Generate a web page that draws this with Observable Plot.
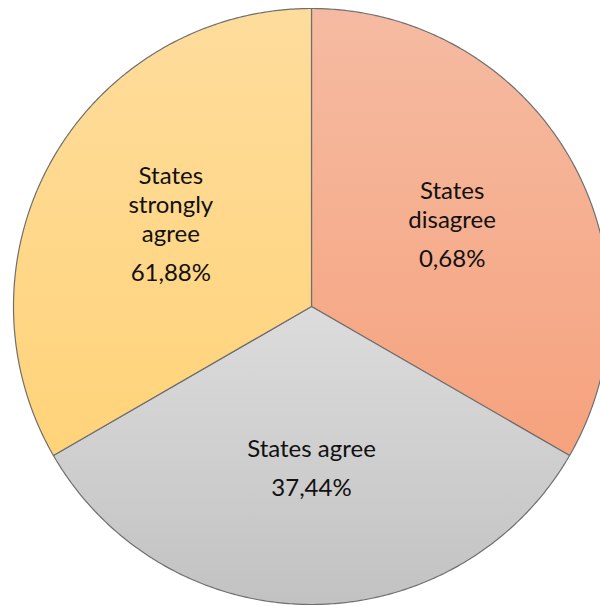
<!DOCTYPE html>
<html>
<head>
<meta charset="utf-8">
<script src="https://cdn.jsdelivr.net/npm/d3@7"></script>
<script src="https://cdn.jsdelivr.net/npm/@observablehq/plot@0.6"></script>
<style>
  html, body { margin: 0; padding: 0; background: #fff; }
  #chart { width: 600px; height: 606px; overflow: hidden; }
</style>
</head>
<body>
<div id="chart"></div>
<script>
// Data
const categories = ["States disagree", "States agree", "States strongly agree"];
const nameLines = [["States", "disagree"], ["States agree"], ["States", "strongly", "agree"]];
const percentLabels = ["0,68%", "37,44%", "61,88%"];
// Slice sizes as drawn in the picture (each slice spans one third of the circle)
const sliceShares = [1, 1, 1];
const gradTop = ["#F5BBA2", "#DCDCDC", "#FEDC9C"];
const gradBottom = ["#F6A27D", "#C2C2C2", "#FFD379"];

const pie = d3.pie().sort(null).value(d => d.share);
const rows = categories.map((c, i) => ({
  category: c, share: sliceShares[i], pct: percentLabels[i], lines: nameLines[i], i
}));
const arcs = pie(rows);

// polygon vertices of each sector in unit coordinates (y down)
const poly = [];
arcs.forEach(a => {
  const id = a.data.i;
  poly.push({x: 0, y: 0, id});
  const n = Math.max(2, Math.ceil((a.endAngle - a.startAngle) / (Math.PI / 360)));
  for (let k = 0; k <= n; k++) {
    const t = a.startAngle + (a.endAngle - a.startAngle) * k / n;
    poly.push({x: Math.sin(t), y: -Math.cos(t), id});
  }
});

const R = 298, cx = 311, cy = 306;
const lineH = 29;   // px between name lines
const gap = 39;     // px between last name line and percent
const labelR = 0.545;
const names = [], pcts = [];
arcs.forEach(a => {
  const mid = (a.startAngle + a.endAngle) / 2;
  const lx = labelR * Math.sin(mid), ly = -labelR * Math.cos(mid);
  const n = a.data.lines.length;
  const blockSpan = (n - 1) * lineH + gap; // from first line center to percent center
  const top = ly - (blockSpan / 2) / R;
  a.data.lines.forEach((t, k) => names.push({x: lx, y: top + (k * lineH) / R, text: t}));
  pcts.push({x: lx, y: top + ((n - 1) * lineH + gap) / R, text: a.data.pct});
});

const defs = () => {
  const d = d3.create("svg:defs");
  categories.forEach((c, i) => {
    const g = d.append("linearGradient").attr("id", "grad" + i)
      .attr("x1", 0).attr("y1", 0).attr("x2", 0).attr("y2", 1);
    g.append("stop").attr("offset", "0%").attr("stop-color", gradTop[i]);
    g.append("stop").attr("offset", "100%").attr("stop-color", gradBottom[i]);
  });
  return d.node();
};

const chart = Plot.plot({
  width: 600,
  height: 606,
  margin: 0,
  x: {domain: [-1, 1], range: [cx - R, cx + R], axis: null},
  y: {domain: [-1, 1], range: [cy - R, cy + R], axis: null},
  style: {fontFamily: "Lato, 'Open Sans', sans-serif", background: "white"},
  marks: [
    defs,
    Plot.line(poly, {
      x: "x", y: "y", z: "id", curve: "linear-closed",
      fill: d => `url(#grad${d.id})`,
      stroke: "#6f6f6f", strokeWidth: 1.2, strokeLinejoin: "round"
    }),
    Plot.text(names, {x: "x", y: "y", text: "text", fontSize: 24, fill: "#111", lineAnchor: "middle"}),
    Plot.text(pcts, {x: "x", y: "y", text: "text", fontSize: 24, fill: "#111", lineAnchor: "middle"})
  ]
});
document.getElementById("chart").appendChild(chart);
</script>
</body>
</html>
